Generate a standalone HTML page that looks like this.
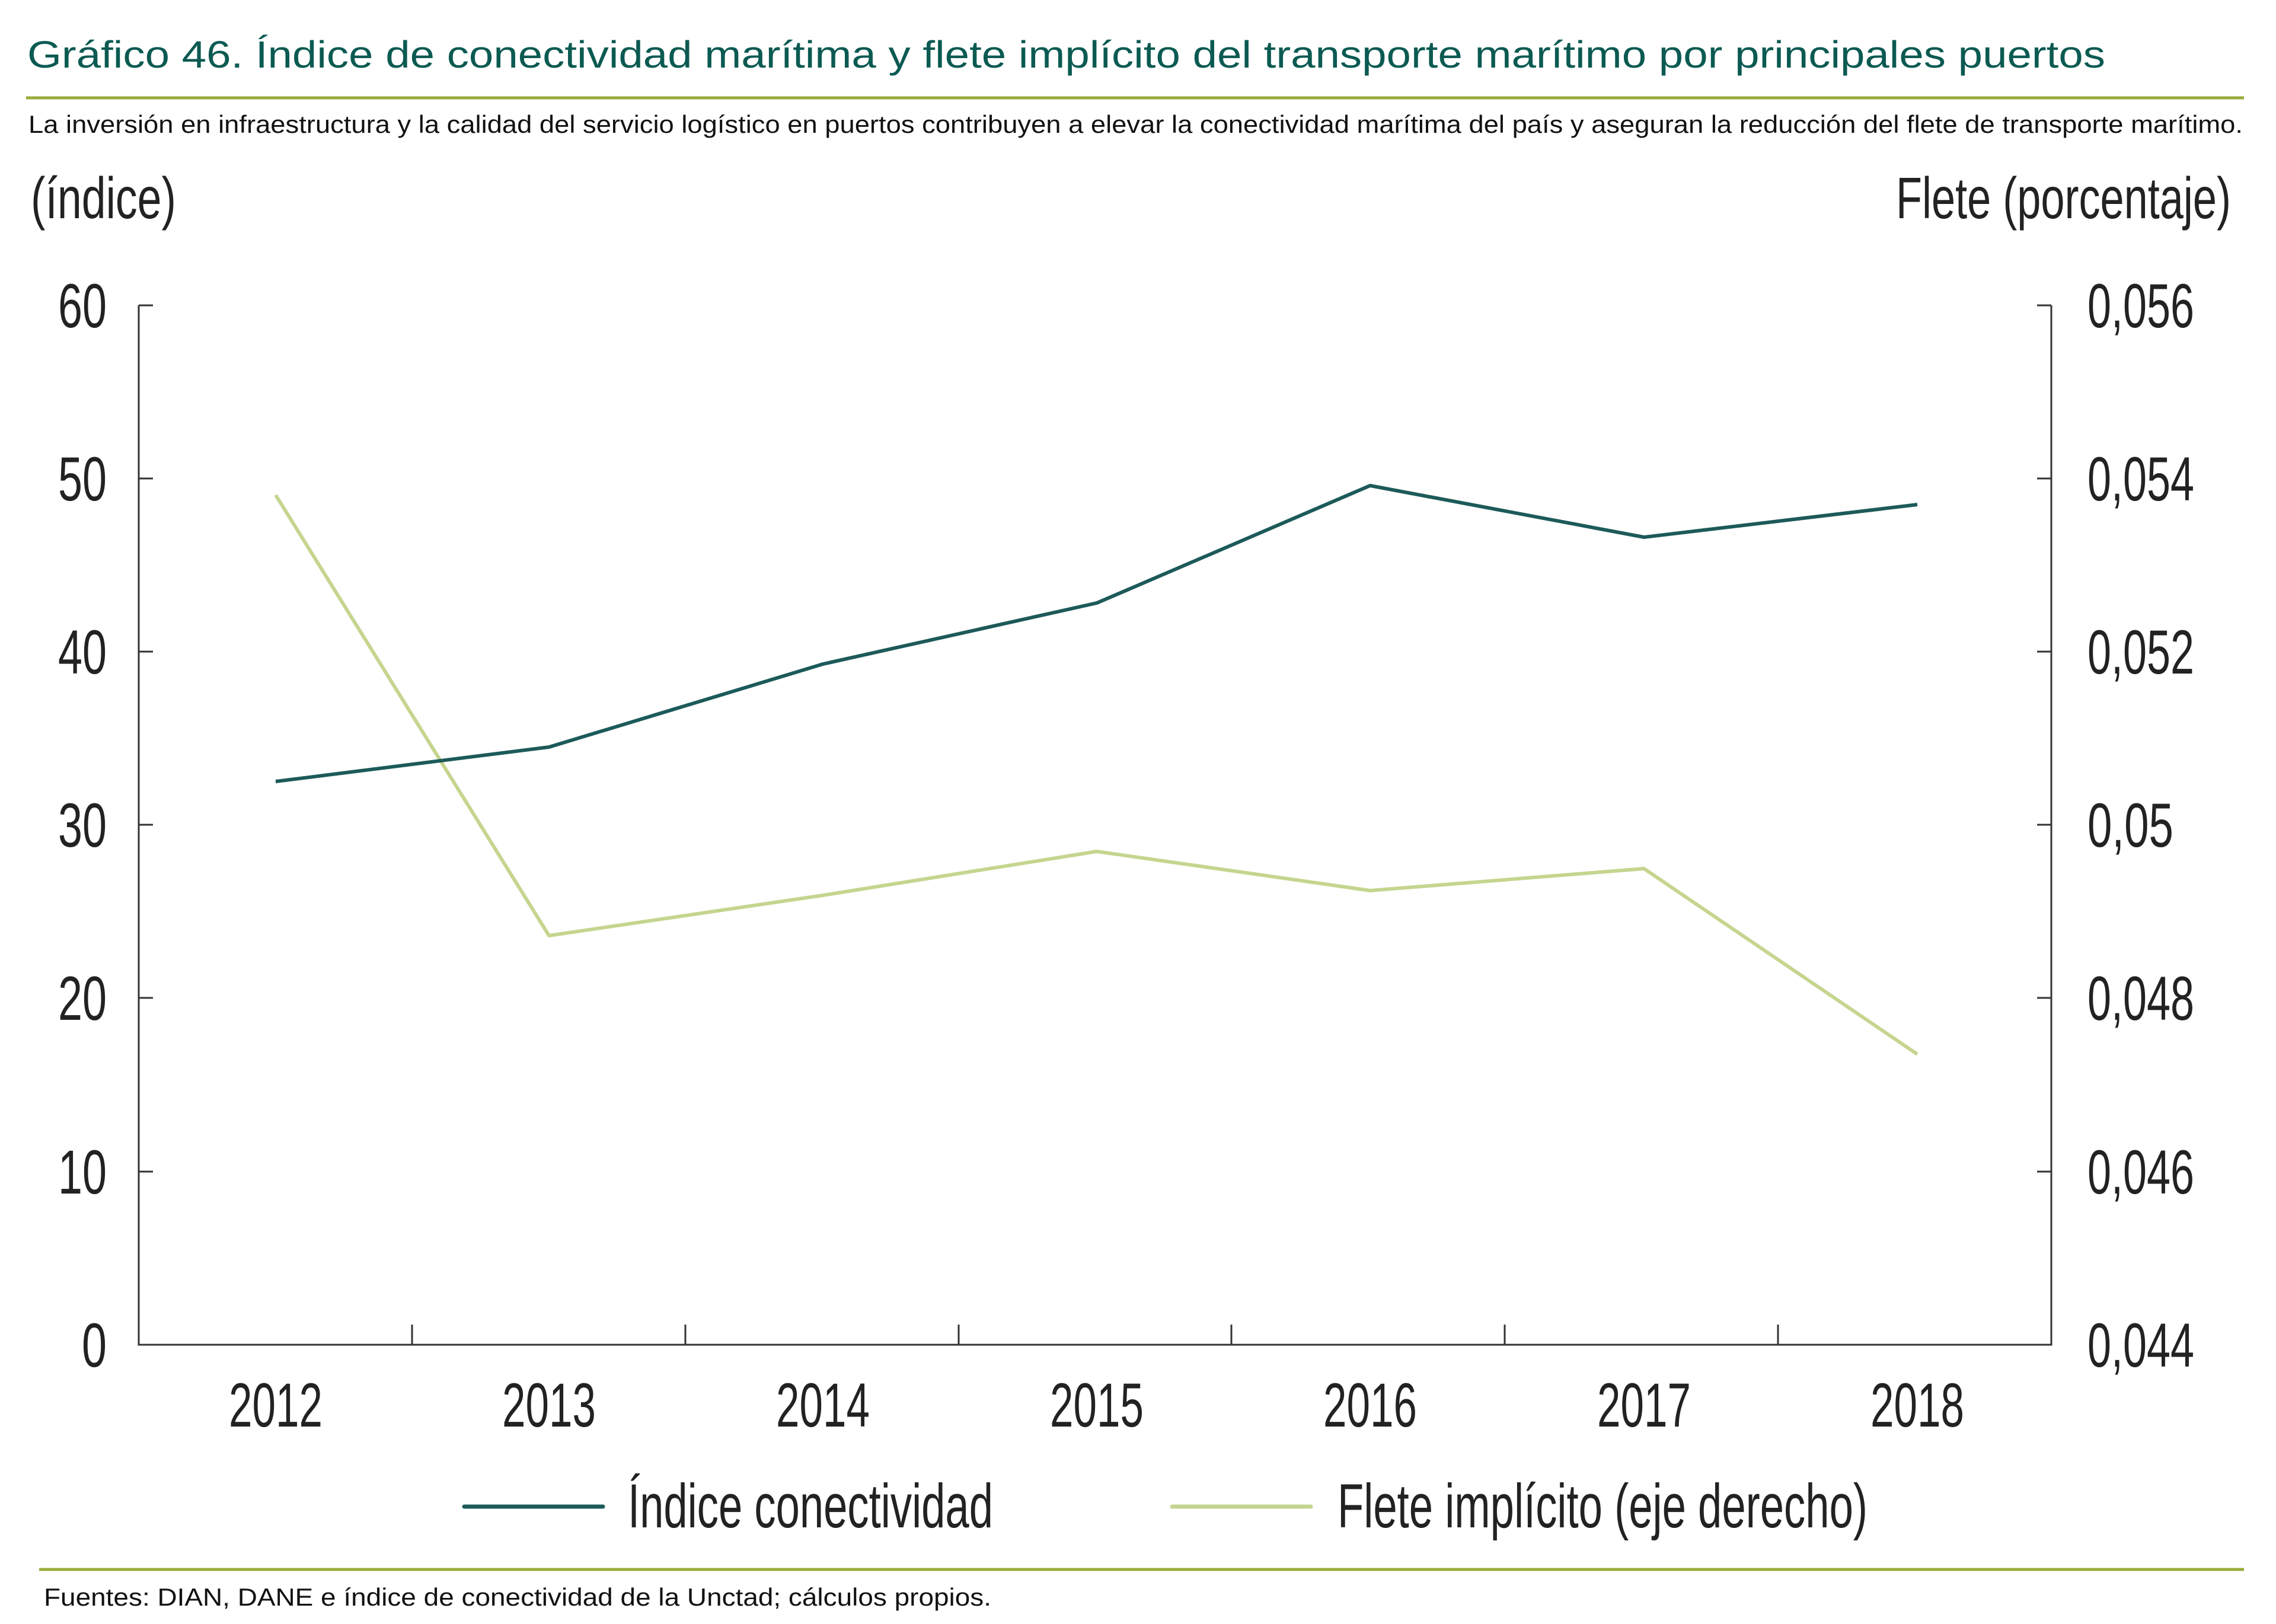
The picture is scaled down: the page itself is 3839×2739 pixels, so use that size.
<!DOCTYPE html>
<html><head><meta charset="utf-8"><style>
html,body{margin:0;padding:0;background:#fff}
svg{display:block}
text{font-family:"Liberation Sans Narrow","Liberation Sans",sans-serif}
</style></head><body>
<svg width="3839" height="2739" viewBox="0 0 3839 2739" xmlns="http://www.w3.org/2000/svg">
<rect width="3839" height="2739" fill="#fff"/>
<text x="46" y="114" font-size="64" fill="#0b5a52" textLength="3505" lengthAdjust="spacingAndGlyphs" style="font-family:'Liberation Sans',sans-serif">Gráfico 46. Índice de conectividad marítima y flete implícito del transporte marítimo por principales puertos</text>
<line x1="44" y1="165" x2="3785" y2="165" stroke="#9aab3c" stroke-width="5"/>
<text x="48" y="224" font-size="42" fill="#111" textLength="3735" lengthAdjust="spacingAndGlyphs" style="font-family:'Liberation Sans',sans-serif">La inversión en infraestructura y la calidad del servicio logístico en puertos contribuyen a elevar la conectividad marítima del país y aseguran la reducción del flete de transporte marítimo.</text>
<text x="52" y="368" font-size="98" fill="#222" textLength="245" lengthAdjust="spacingAndGlyphs">(índice)</text>
<text x="3763" y="368" font-size="98" fill="#222" text-anchor="end" textLength="565" lengthAdjust="spacingAndGlyphs">Flete (porcentaje)</text>
<g stroke="#333" stroke-width="3" fill="none">
<path d="M234 515 V2268 H3460 V515"/>
<path d="M234 515h24M234 807h24M234 1099h24M234 1391h24M234 1683h24M234 1976h24"/>
<path d="M3460 515h-24M3460 807h-24M3460 1099h-24M3460 1391h-24M3460 1683h-24M3460 1976h-24"/>
<path d="M695 2268v-34M1156 2268v-34M1617 2268v-34M2077 2268v-34M2538 2268v-34M2999 2268v-34"/>
</g>
<g font-size="105" fill="#222" text-anchor="end">
<text x="180" y="552" textLength="82" lengthAdjust="spacingAndGlyphs">60</text>
<text x="180" y="844" textLength="82" lengthAdjust="spacingAndGlyphs">50</text>
<text x="180" y="1136" textLength="82" lengthAdjust="spacingAndGlyphs">40</text>
<text x="180" y="1428" textLength="82" lengthAdjust="spacingAndGlyphs">30</text>
<text x="180" y="1720" textLength="82" lengthAdjust="spacingAndGlyphs">20</text>
<text x="180" y="2013" textLength="82" lengthAdjust="spacingAndGlyphs">10</text>
<text x="180" y="2305" textLength="42" lengthAdjust="spacingAndGlyphs">0</text>
</g>
<g font-size="105" fill="#222">
<text x="3521" y="552" textLength="180" lengthAdjust="spacingAndGlyphs">0,056</text>
<text x="3521" y="844" textLength="180" lengthAdjust="spacingAndGlyphs">0,054</text>
<text x="3521" y="1136" textLength="180" lengthAdjust="spacingAndGlyphs">0,052</text>
<text x="3521" y="1428" textLength="145" lengthAdjust="spacingAndGlyphs">0,05</text>
<text x="3521" y="1720" textLength="180" lengthAdjust="spacingAndGlyphs">0,048</text>
<text x="3521" y="2013" textLength="180" lengthAdjust="spacingAndGlyphs">0,046</text>
<text x="3521" y="2305" textLength="180" lengthAdjust="spacingAndGlyphs">0,044</text>
</g>
<g font-size="105" fill="#222" text-anchor="middle">
<text x="465" y="2406" textLength="158" lengthAdjust="spacingAndGlyphs">2012</text>
<text x="926" y="2406" textLength="158" lengthAdjust="spacingAndGlyphs">2013</text>
<text x="1388" y="2406" textLength="158" lengthAdjust="spacingAndGlyphs">2014</text>
<text x="1850" y="2406" textLength="158" lengthAdjust="spacingAndGlyphs">2015</text>
<text x="2311" y="2406" textLength="158" lengthAdjust="spacingAndGlyphs">2016</text>
<text x="2773" y="2406" textLength="158" lengthAdjust="spacingAndGlyphs">2017</text>
<text x="3234" y="2406" textLength="158" lengthAdjust="spacingAndGlyphs">2018</text>
</g>
<polyline fill="none" stroke="#c5d58f" stroke-width="6" stroke-linejoin="round" points="465,835 926,1578 1388,1510 1850,1436 2311,1502 2773,1465 3234,1778"/>
<polyline fill="none" stroke="#1d5a5a" stroke-width="6" stroke-linejoin="round" points="465,1318 926,1260 1388,1120 1850,1017 2311,819 2773,906 3234,851"/>
<line x1="783" y1="2541" x2="1017" y2="2541" stroke="#1d5a5a" stroke-width="7" stroke-linecap="round"/>
<text x="1059" y="2576" font-size="105" fill="#222" textLength="616" lengthAdjust="spacingAndGlyphs">Índice conectividad</text>
<line x1="1977" y1="2541" x2="2211" y2="2541" stroke="#c5d58f" stroke-width="7" stroke-linecap="round"/>
<text x="2256" y="2576" font-size="105" fill="#222" textLength="894" lengthAdjust="spacingAndGlyphs">Flete implícito (eje derecho)</text>
<line x1="66" y1="2647" x2="3785" y2="2647" stroke="#9aab3c" stroke-width="5"/>
<text x="74" y="2708" font-size="42" fill="#111" textLength="1598" lengthAdjust="spacingAndGlyphs" style="font-family:'Liberation Sans',sans-serif">Fuentes: DIAN, DANE e índice de conectividad de la Unctad; cálculos propios.</text>
</svg>
</body></html>
